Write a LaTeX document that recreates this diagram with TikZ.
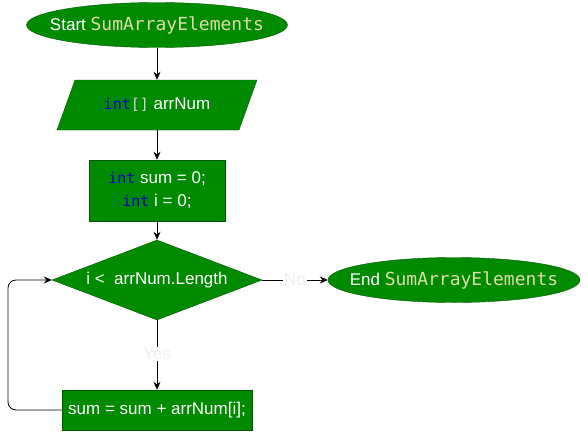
\documentclass[tikz,border=0pt]{standalone}
\usepackage{fontspec}
\setmainfont{Liberation Sans}
\newfontfamily\codefont{DejaVu Sans Mono}
\usetikzlibrary{shapes.geometric,arrows.meta}
\definecolor{gfill}{HTML}{008A00}
\definecolor{gline}{HTML}{005700}
\definecolor{kw}{HTML}{0000C8}
\definecolor{fn}{HTML}{DCDCAA}
\definecolor{br}{HTML}{D4D4D4}
\definecolor{lbl}{HTML}{F0F0F0}
\begin{document}
\begin{tikzpicture}[x=1pt,y=-1pt,
  txt/.style={text=white,font=\fontsize{17}{23}\selectfont,align=center},
  term/.style={rectangle,inner sep=0pt,minimum height=45pt,txt},
  shapefill/.style={fill=gfill,draw=gline},
  proc/.style={rectangle,fill=gfill,draw=gline,inner sep=0pt,txt},
  cond/.style={diamond,aspect=2.625,fill=gfill,draw=gline,inner sep=0pt,minimum width=210pt,minimum height=80pt,txt},
  arr/.style={draw=black,line width=0.8pt,-{Stealth[length=8pt,width=7pt]}},
  elabel/.style={fill=white,text=lbl,inner sep=1pt,font=\fontsize{17}{20}\selectfont}]
\useasboundingbox (0,0) rectangle (588,431);
\fill[shapefill] (157,25) ellipse [x radius=130.5pt, y radius=22.5pt];
\node[term,minimum width=261pt] (start) at (157,25) {Start \textcolor{fn}{\codefont\fontsize{18}{20}\selectfont SumArrayElements}};
% parallelogram
\fill[shapefill] (75,80) -- (257,80) -- (239,130) -- (57,130) -- cycle;
\node[txt,minimum width=182pt,minimum height=50pt,inner sep=0pt] (input) at (157,105) {\textcolor{kw}{\codefont\fontsize{15}{20}\selectfont int}\textcolor{br}{\codefont\fontsize{15}{20}\selectfont[]} arrNum};
\node[proc,minimum width=136pt,minimum height=61pt] (init) at (157,190.5) {\textcolor{kw}{\codefont\fontsize{15}{20}\selectfont int} sum = 0;\\ \textcolor{kw}{\codefont\fontsize{15}{20}\selectfont int} i = 0;};
\node[cond] (cond) at (157,280) {i <\ \ arrNum.Length};
\fill[shapefill] (454,280) ellipse [x radius=126pt, y radius=22.5pt];
\node[term,minimum width=252pt] (end) at (454,280) {End \textcolor{fn}{\codefont\fontsize{18}{20}\selectfont SumArrayElements}};
\node[proc,minimum width=190pt,minimum height=40pt] (body) at (157,410) {sum = sum + arrNum[i];};
\coordinate (lb) at (8,410);
\coordinate (lt) at (8,280);
\draw[arr] (start) -- (input);
\draw[arr] (input) -- (init);
\draw[arr] (init) -- (cond);
\draw[arr] (cond) -- node[elabel] {No} (end);
\draw[arr] (cond) -- node[elabel,pos=0.48] {Yes} (body);
\draw[arr,rounded corners=8pt] (body.west) -- (lb) -- (lt) -- (cond.west);
\end{tikzpicture}
\end{document}
